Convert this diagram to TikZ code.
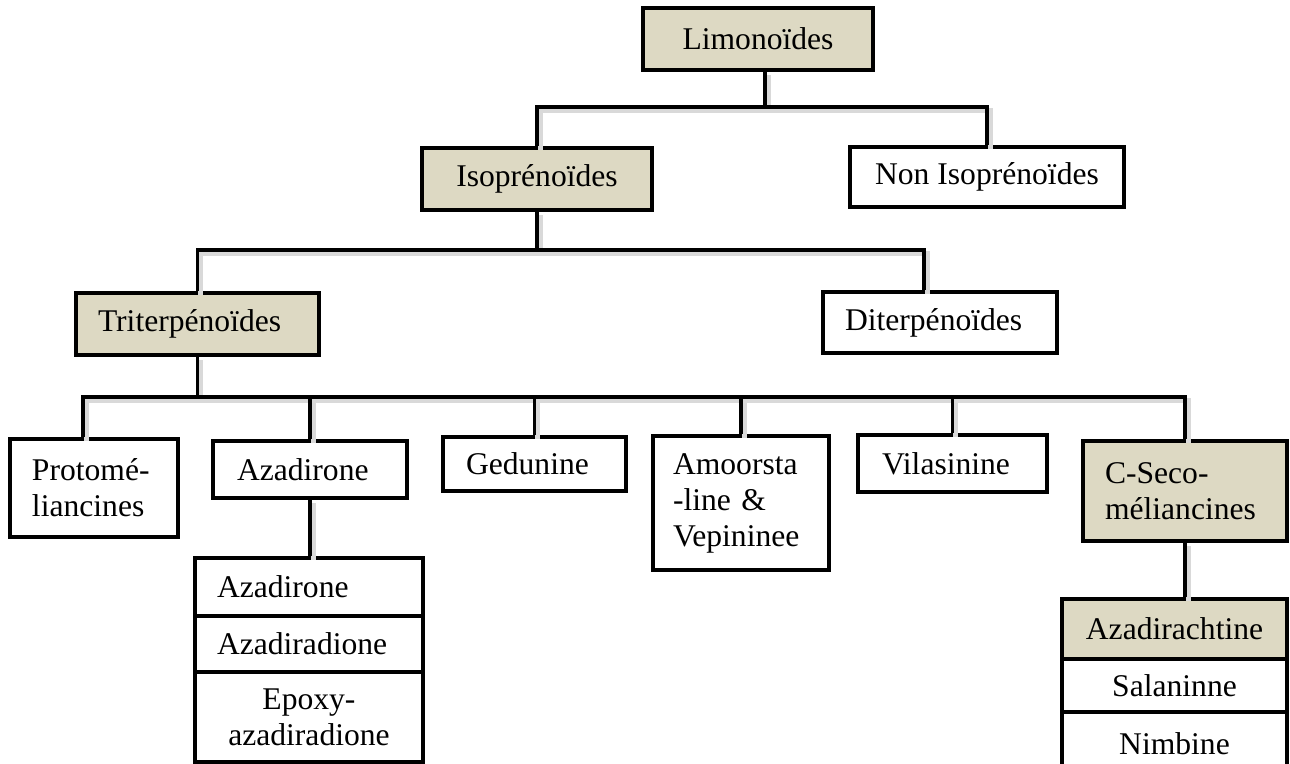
\documentclass[tikz,border=0pt]{standalone}
\usepackage{fontspec}
\setmainfont{Liberation Serif}
\definecolor{boxtan}{HTML}{DDD9C3}
\tikzset{
	box/.style={draw, line width=1.8pt, rectangle, inner sep=0pt, font=\fontsize{15.8}{18}\selectfont},
	tanbox/.style={box, fill=boxtan},
	lbox/.style={box, align=left, inner xsep=11pt},
	link/.style={line width=1.8pt, preaction={draw=black!15, line width=2.4pt, transform canvas={shift={(1.6pt,-1.8pt)}}}}
}
\begin{document}
\begin{tikzpicture}[x=0.5pt, y=-0.5pt]
		\useasboundingbox (0, 0) rectangle (1290, 764);
		\node[tanbox, minimum width=115pt, minimum height=31pt] (lim) at (758, 39) {Limonoïdes};
		\node[tanbox, minimum width=115pt, minimum height=31pt] (iso) at (537, 179) {Isoprénoïdes};
		\node[box, minimum width=137pt, minimum height=30pt] (noniso) at (987, 177) {Non Isoprénoïdes};
		\node[lbox, fill=boxtan, text width=99.5pt, minimum height=31pt] (tri) at (197.5, 324) {Triterpénoïdes};
		\node[lbox, text width=95pt, minimum height=30.5pt] (di) at (940, 322.5) {Diterpénoïdes};
		% third row
		\node[lbox, text width=62pt, minimum height=49pt] (proto) at (94, 488) {Protomé-\\liancines};
		\node[lbox, inner xsep=12pt, text width=73pt, minimum height=28.5pt] (aza) at (310, 469.5) {Azadirone};
		\node[lbox, inner xsep=11.5pt, text width=68.5pt, minimum height=27pt] (ged) at (534.5, 464) {Gedunine};
		\node[lbox, inner xsep=10pt, text width=68pt, minimum height=67pt] (amo) at (741, 503) {Amoorsta\\-line \&\\Vepininee};
		\node[lbox, inner xsep=12pt, text width=70.5pt, minimum height=28.5pt] (vil) at (952.5, 463.5) {Vilasinine};
		\node[lbox, fill=boxtan, text width=80pt, minimum height=50pt] (cseco) at (1185, 491) {C-Seco-\\méliancines};
		% lists
		\node[lbox, text width=92pt, minimum height=29pt] (az1) at (309, 587) {Azadirone};
		\node[lbox, text width=92pt, minimum height=28pt] (az2) at (309, 644) {Azadiradione};
		\node[box, align=center, minimum width=114pt, minimum height=45pt] (az3) at (309, 717) {Epoxy-\\azadiradione};
		\node[tanbox, minimum width=112.5pt, minimum height=30pt] (ch1) at (1174.5, 629) {Azadirachtine};
		\node[box, minimum width=112.5pt, minimum height=26.5pt] (ch2) at (1174.5, 685.5) {Salaninne};
		\node[box, minimum width=112.5pt, minimum height=32pt] (ch3) at (1174.5, 744) {Nimbine};
		\coordinate (j1) at (765, 107);
		\coordinate (j2) at (540, 250);
		\coordinate (j3) at (197, 397);
		\draw[link] (lim.south -| j1) -- (j1);
		\draw[link] (iso.north) |- (j1) -| (noniso.north);
		\draw[link] (iso.south) -- (iso.south |- j2);
		\draw[link] (tri.north) |- (j2) -| ([xshift=-8pt]di.north);
		\draw[link] (tri.south) -- (tri.south |- j3);
		\draw[link] ([xshift=-5.5pt]proto.north) |- (j3) -| (cseco.north);
		\foreach \n in {aza, ged, amo, vil}
			\draw[link] (\n.north) -- (\n.north |- j3);
		\draw[link] (aza.south) -- (aza.south |- az1.north);
		\draw[link] (cseco.south) -- (cseco.south |- ch1.north);
	\end{tikzpicture}
\end{document}
